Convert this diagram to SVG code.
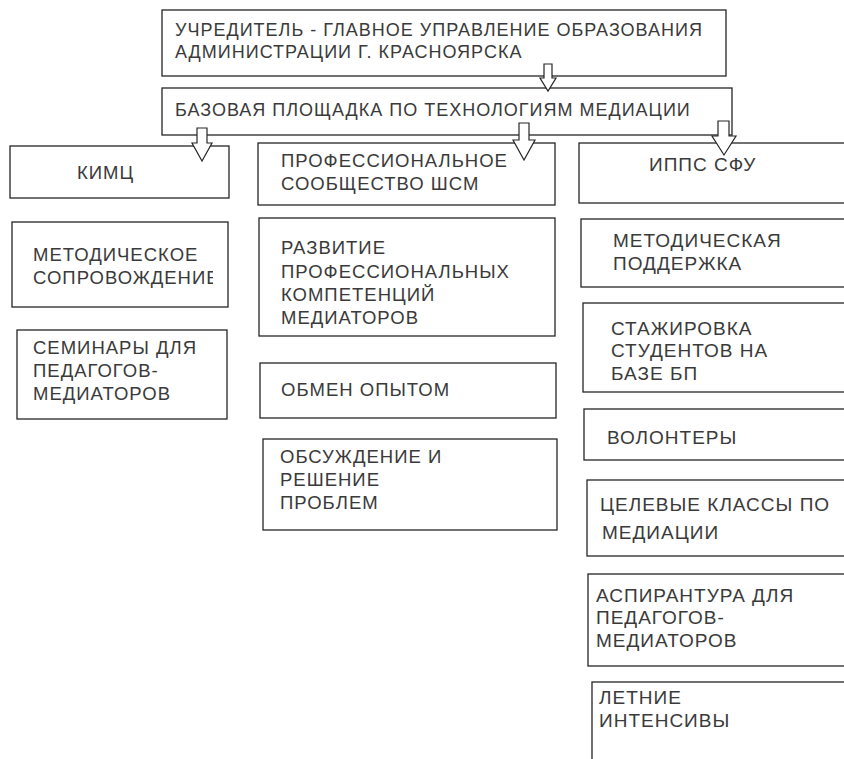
<svg xmlns="http://www.w3.org/2000/svg" width="844" height="759" viewBox="0 0 844 759">
<style>
.b{fill:#fff;stroke:#262626;stroke-width:1.3}
.t{font-family:"Liberation Sans",Arial,sans-serif;font-size:18.5px;letter-spacing:1px;fill:#3a3a3a}
.h{font-size:18px;letter-spacing:1px}
.r{font-size:19px;letter-spacing:1px}
.a{fill:#fff;stroke:#262626;stroke-width:1.2;stroke-linejoin:miter}
</style>
<defs><clipPath id="cl1"><rect x="12" y="222" width="201" height="85"/></clipPath></defs>
<rect width="844" height="759" fill="#fff"/>
<g id="n-top"><rect class="b" x="162" y="10" width="564" height="66"/>
<text class="t h" x="175" y="36">УЧРЕДИТЕЛЬ - ГЛАВНОЕ УПРАВЛЕНИЕ ОБРАЗОВАНИЯ</text>
<text class="t h" x="175" y="58">АДМИНИСТРАЦИИ Г. КРАСНОЯРСКА</text></g>
<g id="n-base"><rect class="b" x="162" y="88" width="570" height="47"/>
<text class="t h" x="175" y="116">БАЗОВАЯ ПЛОЩАДКА ПО ТЕХНОЛОГИЯМ МЕДИАЦИИ</text></g>
<g id="n-kimc"><rect class="b" x="10" y="146" width="219" height="52"/>
<text class="t" x="77" y="179">КИМЦ</text></g>
<g id="n-prof"><rect class="b" x="258" y="143" width="297" height="62"/>
<text class="t" x="281" y="167">ПРОФЕССИОНАЛЬНОЕ</text>
<text class="t" x="281" y="190">СООБЩЕСТВО ШСМ</text></g>
<g id="n-ipps"><rect class="b" x="579" y="143" width="271" height="60"/>
<text class="t r" x="649" y="171">ИППС СФУ</text></g>
<g id="n-metsopr"><rect class="b" x="12" y="222" width="216" height="85"/>
<text class="t" x="33" y="261">МЕТОДИЧЕСКОЕ</text>
<text class="t" x="33" y="284" clip-path="url(#cl1)">СОПРОВОЖДЕНИЕ</text></g>
<g id="n-sem"><rect class="b" x="17" y="330" width="210" height="89"/>
<text class="t" x="33" y="354">СЕМИНАРЫ ДЛЯ</text>
<text class="t" x="33" y="377">ПЕДАГОГОВ-</text>
<text class="t" x="33" y="400">МЕДИАТОРОВ</text></g>
<g id="n-razv"><rect class="b" x="259" y="218" width="296" height="118"/>
<text class="t" x="281" y="254">РАЗВИТИЕ</text>
<text class="t" x="281" y="278">ПРОФЕССИОНАЛЬНЫХ</text>
<text class="t" x="281" y="301">КОМПЕТЕНЦИЙ</text>
<text class="t" x="281" y="324">МЕДИАТОРОВ</text></g>
<g id="n-obmen"><rect class="b" x="260" y="363" width="296" height="55"/>
<text class="t" x="281" y="396">ОБМЕН ОПЫТОМ</text></g>
<g id="n-obsuzh"><rect class="b" x="263" y="439" width="294" height="91"/>
<text class="t" x="280" y="463">ОБСУЖДЕНИЕ И</text>
<text class="t" x="280" y="486">РЕШЕНИЕ</text>
<text class="t" x="280" y="509">ПРОБЛЕМ</text></g>
<g id="n-metpodd"><rect class="b" x="581" y="219" width="270" height="68"/>
<text class="t r" x="613" y="247">МЕТОДИЧЕСКАЯ</text>
<text class="t r" x="613" y="270">ПОДДЕРЖКА</text></g>
<g id="n-stazh"><rect class="b" x="583" y="303" width="268" height="89"/>
<text class="t r" x="611" y="335">СТАЖИРОВКА</text>
<text class="t r" x="611" y="357">СТУДЕНТОВ НА</text>
<text class="t r" x="611" y="380">БАЗЕ БП</text></g>
<g id="n-vol"><rect class="b" x="584" y="409" width="267" height="51"/>
<text class="t r" x="607" y="444">ВОЛОНТЕРЫ</text></g>
<g id="n-cel"><rect class="b" x="587" y="480" width="264" height="76"/>
<text class="t r" x="600" y="511">ЦЕЛЕВЫЕ КЛАССЫ ПО</text>
<text class="t r" x="602" y="539">МЕДИАЦИИ</text></g>
<g id="n-asp"><rect class="b" x="588" y="574" width="263" height="92"/>
<text class="t r" x="596" y="602">АСПИРАНТУРА ДЛЯ</text>
<text class="t r" x="596" y="624">ПЕДАГОГОВ-</text>
<text class="t r" x="596" y="647">МЕДИАТОРОВ</text></g>
<g id="n-let"><rect class="b" x="592" y="682" width="259" height="90"/>
<text class="t r" x="599" y="704">ЛЕТНИЕ</text>
<text class="t r" x="599" y="727">ИНТЕНСИВЫ</text></g>
<g id="connectors">
<path class="a" d="M544,64 H552 V78 H556 L548,91 L540,78 H544 Z"/>
<path class="a" d="M197,128 H207 V143 H212 L202,161 L192,143 H197 Z"/>
<path class="a" d="M519,123 H529 V140 H535 L524,160 L513,140 H519 Z"/>
<path class="a" d="M718,121 H729 V136 H736 L724,155 L712,136 H718 Z"/>
</g>
</svg>
